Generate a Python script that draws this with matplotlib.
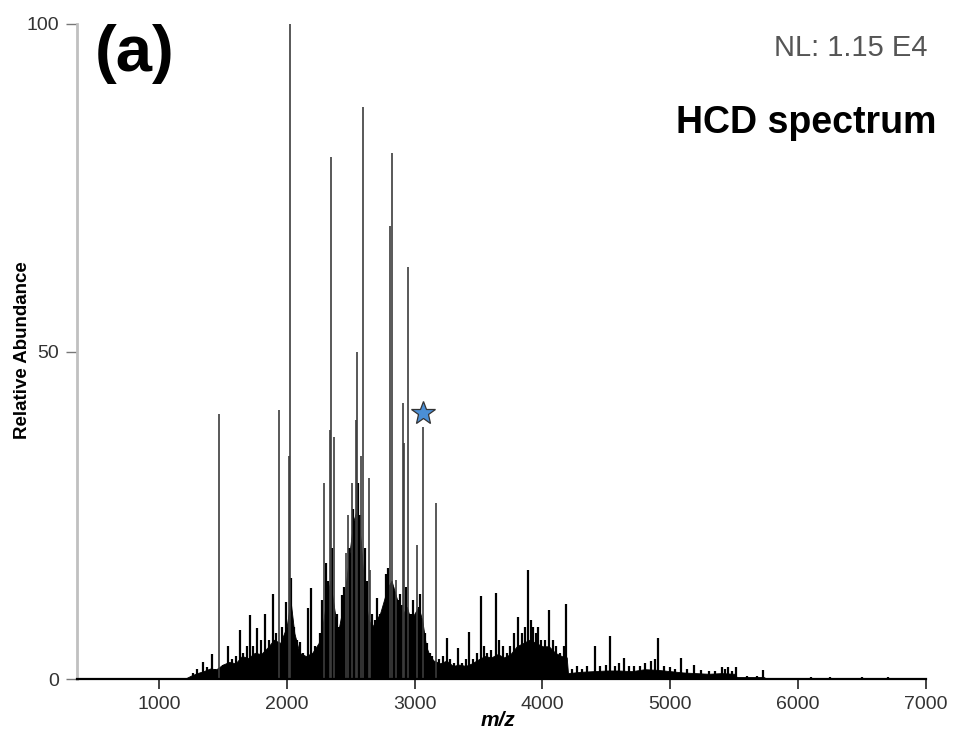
import numpy as np
import matplotlib
matplotlib.use("Agg")
import matplotlib.pyplot as plt

plt.rcParams['font.family'] = ['Liberation Sans', 'DejaVu Sans']

# tall, resolved fragment peaks (m/z, relative abundance %)
major_mz = [1472, 1941, 2017, 2025, 2293, 2338, 2343, 2369, 2463, 2481, 2508, 2539,
            2551, 2585, 2594, 2643, 2651, 2807, 2821, 2855, 2912, 2917, 2951, 3021,
            3063, 3164]
major_h = [40.5, 41.0, 34.0, 100.0, 30.0, 38.0, 79.7, 37.0, 19.2, 25.0, 30.0, 39.5,
           50.0, 34.0, 87.3, 30.7, 16.6, 69.2, 80.3, 15.1, 42.1, 36.0, 62.9, 20.4,
           38.5, 26.8]

# smaller peaks of the dense forest
minor_mz = [1266, 1300, 1344, 1380, 1412, 1440, 1500, 1542, 1570, 1600, 1634, 1660,
            1690, 1715, 1740, 1769, 1800, 1829, 1860, 1894, 1915, 1965, 1993, 2037,
            2060, 2080, 2103, 2130, 2163, 2194, 2220, 2259, 2280, 2311, 2325, 2355,
            2390, 2410, 2429, 2445, 2490, 2520, 2560, 2575, 2610, 2625, 2670, 2690,
            2708, 2730, 2760, 2780, 2795, 2835, 2870, 2885, 2899, 2930, 2965, 2977,
            2990, 3005, 3035, 3045, 3080, 3094, 3120, 3140, 3190, 3220, 3251, 3280,
            3310, 3342, 3370, 3400, 3428, 3460, 3490, 3519, 3540, 3570, 3600, 3634,
            3660, 3690, 3720, 3750, 3780, 3811, 3840, 3860, 3889, 3910, 3930, 3950,
            3967, 3990, 4020, 4053, 4080, 4110, 4140, 4165, 4184, 4230, 4270, 4310,
            4350, 4412, 4450, 4500, 4529, 4570, 4600, 4641, 4680, 4720, 4760, 4800,
            4850, 4880, 4907, 4950, 5000, 5040, 5085, 5130, 5189, 5240, 5300, 5350,
            5403, 5430, 5454, 5480, 5512, 5600, 5680, 5728, 6100, 6250, 6500, 6700]
minor_h = [0.9, 1.5, 2.6, 1.8, 3.8, 1.5, 2.2, 5.0, 3.0, 3.5, 7.5, 4.0,
           5.0, 9.7, 5.0, 7.8, 6.0, 9.9, 6.0, 13.0, 7.0, 8.0, 11.7, 15.4,
           8.0, 6.0, 5.7, 4.0, 10.8, 13.9, 5.0, 7.0, 12.0, 17.7, 15.0, 20.0,
           10.0, 8.0, 12.8, 14.0, 20.0, 26.0, 30.0, 25.0, 20.0, 15.0, 10.0, 9.0,
           12.4, 10.0, 11.0, 16.0, 17.0, 14.0, 12.0, 13.0, 11.3, 14.0, 10.0, 10.0,
           12.0, 9.0, 11.0, 13.0, 7.0, 5.5, 4.0, 3.5, 3.0, 3.5, 6.3, 3.0,
           2.5, 4.7, 2.5, 3.0, 7.2, 3.0, 4.0, 12.6, 5.0, 4.0, 4.5, 13.1,
           6.0, 5.0, 4.0, 5.0, 7.0, 9.5, 7.0, 8.0, 16.7, 9.0, 8.0, 7.0,
           8.0, 6.0, 6.0, 10.5, 6.0, 5.0, 4.0, 5.0, 11.5, 1.5, 2.0, 1.6,
           2.0, 5.0, 2.0, 2.2, 6.6, 2.0, 2.5, 3.2, 2.0, 2.0, 2.0, 2.5,
           2.8, 3.0, 6.2, 2.0, 1.8, 1.6, 3.2, 1.5, 2.1, 1.3, 1.2, 1.2,
           1.9, 1.5, 1.9, 1.2, 1.9, 0.4, 0.5, 1.4, 0.3, 0.35, 0.25, 0.3]

# unresolved baseline hump under the peaks
env_mz = [1200, 1250, 1300, 1350, 1400, 1450, 1500, 1550, 1600, 1650, 1700, 1750,
          1800, 1850, 1900, 1950, 2000, 2030, 2060, 2100, 2150, 2200, 2250, 2280,
          2310, 2340, 2370, 2400, 2430, 2460, 2490, 2520, 2550, 2580, 2610, 2640,
          2670, 2700, 2730, 2760, 2790, 2820, 2850, 2880, 2910, 2940, 2970, 3000,
          3030, 3060, 3090, 3120, 3150, 3200, 3250, 3300, 3350, 3400, 3450, 3500,
          3550, 3600, 3650, 3700, 3750, 3800, 3850, 3900, 3950, 4000, 4050, 4100,
          4150, 4190, 4200, 4250, 4300, 4400, 4500, 4600, 4700, 4800, 4900, 5000,
          5100, 5200, 5300, 5400, 5500, 5520, 5600, 5700, 5730, 5750, 6000, 6500, 7000]
env_h = [0.0, 0.5, 0.9, 1.2, 1.6, 1.5, 2.2, 2.6, 2.4, 3.5, 3.2, 4.0,
         3.8, 4.8, 6.0, 5.5, 8.0, 12.0, 7.0, 4.0, 3.5, 4.0, 5.5, 8.0,
         12.0, 15.0, 11.0, 7.0, 10.0, 14.0, 19.0, 24.0, 26.0, 21.0, 13.0, 9.0,
         8.0, 9.0, 10.0, 12.0, 14.0, 15.0, 13.0, 11.0, 10.0, 11.0, 9.0, 10.0,
         11.0, 9.0, 5.0, 3.5, 2.8, 2.4, 2.8, 2.0, 2.2, 2.0, 2.4, 3.0,
         3.5, 3.3, 3.8, 3.3, 3.8, 5.0, 5.5, 6.0, 5.5, 5.0, 5.0, 4.0,
         3.5, 3.3, 0.9, 1.0, 1.1, 1.2, 1.3, 1.3, 1.2, 1.5, 1.4, 1.2,
         1.0, 0.9, 0.8, 0.9, 0.8, 0.3, 0.3, 0.3, 0.3, 0.1, 0.1, 0.1, 0.1]

star_mz, star_h = 3066, 40.6

fig = plt.figure(figsize=(9.56, 7.32), dpi=100)
ax = fig.add_axes([77/956, 1 - 679/732, 849/956, 655/732])

ax.fill_between(env_mz, 0, env_h, color='black', lw=0.6)
ax.vlines(minor_mz, 0, minor_h, color='black', lw=1.6)
ax.vlines(major_mz, 0, major_h, color='#3c3c3c', lw=1.2)
ax.plot(star_mz, star_h, marker='*', ms=18, mfc='#4b8fd6', mec='#333333', mew=0.9,
        linestyle='none', clip_on=False, zorder=5)

ax.set_xlim(360, 7000)
ax.set_ylim(0, 100)
ax.set_xticks([1000, 2000, 3000, 4000, 5000, 6000, 7000])
ax.set_yticks([0, 50, 100])

for s in ['top', 'right']:
    ax.spines[s].set_visible(False)
ax.spines['left'].set_color('#c0c0c0')
ax.spines['left'].set_linewidth(2)
ax.spines['bottom'].set_color('black')
ax.spines['bottom'].set_linewidth(1.6)

ax.tick_params(axis='x', direction='out', length=7, width=1.2, color='#222222',
               labelsize=14, labelcolor='#333333', pad=5)
ax.tick_params(axis='y', direction='out', length=8, width=1.0, color='#777777',
               labelsize=14, labelcolor='#333333', pad=5)

ax.set_xlabel('m/z', fontsize=15, fontweight='bold', fontstyle='italic', va='baseline')
ax.xaxis.set_label_coords(0.496, -0.072)
ax.set_ylabel('Relative Abundance', fontsize=13.5, fontweight='bold', va='center')
ax.yaxis.set_label_coords(-0.064, 0.502)

fig.text(95/956, 1 - 24/732, '(a)', fontsize=47, fontweight='bold', va='top', ha='left')
fig.text(927/956, 1 - 56/732, 'NL: 1.15 E4', fontsize=21, color='#555555',
         va='baseline', ha='right')
fig.text(937/956, 1 - 133/732, 'HCD spectrum', fontsize=27, fontweight='bold',
         va='baseline', ha='right')

fig.savefig('out.png', dpi=100)
